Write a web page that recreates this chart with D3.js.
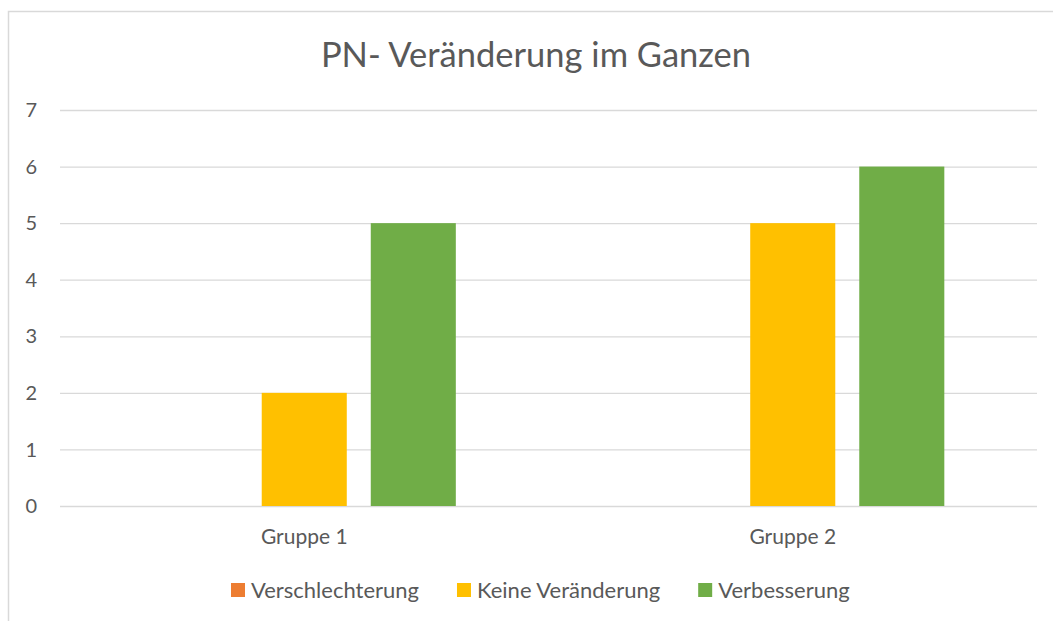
<!DOCTYPE html>
<html><head>
<meta charset="UTF-8">
<title>PN- Veränderung im Ganzen</title>
<script src="https://d3js.org/d3.v7.min.js"></script>
<style>
  body { margin: 0; background: #fff; font-family: Lato, "Open Sans", sans-serif; }
  svg text { fill: #595959; }
</style>
</head>
<body>
<svg id="chart" width="1053" height="621"></svg>
<script>
const groups = ["Gruppe 1", "Gruppe 2"];
const seriesNames = ["Verschlechterung", "Keine Veränderung", "Verbesserung"];
const seriesColors = ["#ED7D31", "#FFC000", "#70AD47"];
const verschlechterung = [0, 0];
const keineVeraenderung = [2, 5];
const verbesserung = [5, 6];
const yTicks = [0, 1, 2, 3, 4, 5, 6, 7];

const seriesValues = [verschlechterung, keineVeraenderung, verbesserung];

const svg = d3.select("#chart");

// chart box border (runs off the right/bottom edge like the screenshot)
svg.append("path")
  .attr("d", "M8.5,630 V11.5 H1060")
  .attr("fill", "none")
  .attr("stroke", "#d9d9d9")
  .attr("stroke-width", 1.5);

const plot = { left: 60, right: 1037, top: 110, bottom: 506 };

const y = d3.scaleLinear().domain([0, 7]).range([plot.bottom, plot.top]);
const x0 = d3.scaleBand().domain(groups).range([plot.left, plot.right]).padding(0);
const x1 = d3.scaleBand().domain(seriesNames).range([0, x0.bandwidth()])
  .paddingInner(0.22).paddingOuter(0.85);

// gridlines
svg.append("g")
  .selectAll("line")
  .data(yTicks)
  .join("line")
  .attr("x1", plot.left).attr("x2", plot.right)
  .attr("y1", d => y(d) + 0.5).attr("y2", d => y(d) + 0.5)
  .attr("stroke", "#d9d9d9")
  .attr("stroke-width", 1.3);

// y labels
svg.append("g")
  .selectAll("text")
  .data(yTicks)
  .join("text")
  .attr("x", 37)
  .attr("y", d => y(d))
  .attr("dy", "0.36em")
  .attr("text-anchor", "end")
  .style("font-size", "20px")
  .text(d => d);

// bars
const gGroups = svg.append("g")
  .selectAll("g")
  .data(groups)
  .join("g")
  .attr("transform", d => `translate(${x0(d)},0)`);

gGroups.selectAll("rect")
  .data((g, gi) => seriesNames.map((s, si) => ({ s, si, v: seriesValues[si][gi] })))
  .join("rect")
  .attr("x", d => x1(d.s))
  .attr("width", x1.bandwidth())
  .attr("y", d => y(d.v))
  .attr("height", d => y(0) - y(d.v))
  .attr("fill", d => seriesColors[d.si]);

// x labels
svg.append("g")
  .selectAll("text")
  .data(groups)
  .join("text")
  .attr("x", d => x0(d) + x0.bandwidth() / 2)
  .attr("y", 544)
  .attr("text-anchor", "middle")
  .style("font-size", "21px")
  .text(d => d);

// title
svg.append("text")
  .attr("x", 536)
  .attr("y", 67)
  .attr("text-anchor", "middle")
  .style("font-size", "34.5px")
  .text("PN- Veränderung im Ganzen");

// legend
const legend = svg.append("g");
const items = legend.selectAll("g")
  .data(seriesNames)
  .join("g");
items.append("rect")
  .attr("width", 14).attr("height", 14)
  .attr("y", 583)
  .attr("fill", (d, i) => seriesColors[i]);
items.append("text")
  .attr("x", 20)
  .attr("y", 598)
  .style("font-size", "22px")
  .text(d => d);

let lx = 231;
items.each(function () {
  const w = d3.select(this).select("text").node().getComputedTextLength();
  d3.select(this).attr("transform", `translate(${lx},0)`);
  lx += 20 + w + 38;
});
</script>
</body>
</html>
